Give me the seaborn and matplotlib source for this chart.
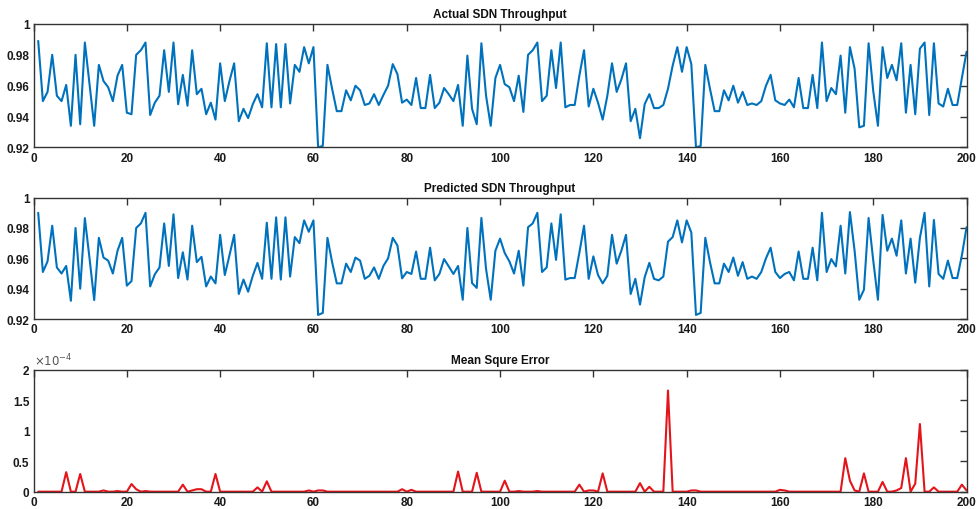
import numpy as np
import matplotlib
matplotlib.use("Agg")
import matplotlib.pyplot as plt
from matplotlib.ticker import FuncFormatter
import seaborn as sns

# ---- style (MATLAB-like look) ----
sns.set_theme(style="white")
plt.rcParams['font.family'] = ['Liberation Sans', 'DejaVu Sans']

# ---- data ----
samples = np.arange(1, 201)

actual = [
    0.989, 0.950, 0.956, 0.980, 0.9535, 0.950, 0.9605, 0.934, 0.980, 0.935,
    0.988, 0.961, 0.934, 0.9735, 0.963, 0.959, 0.950, 0.9665, 0.9735, 0.9425,
    0.9415, 0.980, 0.983, 0.988, 0.941, 0.949, 0.9535, 0.983, 0.956, 0.988,
    0.948, 0.967, 0.947, 0.983, 0.9545, 0.958, 0.9415, 0.949, 0.938, 0.9745,
    0.950, 0.963, 0.9745, 0.937, 0.945, 0.939, 0.948, 0.9545, 0.946, 0.9875,
    0.946, 0.987, 0.946, 0.987, 0.9485, 0.9735, 0.969, 0.985, 0.9745, 0.985,
    0.920, 0.921, 0.9735, 0.958, 0.9435, 0.9435, 0.957, 0.9505, 0.960, 0.957,
    0.9475, 0.9485, 0.9545, 0.9475, 0.954, 0.960, 0.974, 0.9675, 0.949, 0.951,
    0.9475, 0.965, 0.9455, 0.9455, 0.967, 0.9455, 0.949, 0.9585, 0.9545, 0.950,
    0.9605, 0.934, 0.9795, 0.945, 0.935, 0.9875, 0.9535, 0.934, 0.965, 0.9735,
    0.961, 0.959, 0.950, 0.9665, 0.943, 0.980, 0.983, 0.988, 0.950, 0.9535,
    0.983, 0.9585, 0.988, 0.946, 0.9475, 0.9475, 0.9665, 0.983, 0.9465, 0.958,
    0.949, 0.938, 0.9535, 0.9745, 0.956, 0.964, 0.9745, 0.937, 0.945, 0.926,
    0.948, 0.9545, 0.9455, 0.9455, 0.9475, 0.958, 0.973, 0.985, 0.969, 0.985,
    0.974, 0.920, 0.921, 0.9735, 0.958, 0.9435, 0.9435, 0.957, 0.9505, 0.960,
    0.949, 0.956, 0.9475, 0.9485, 0.9475, 0.950, 0.960, 0.967, 0.9505, 0.9485,
    0.9475, 0.951, 0.946, 0.965, 0.9455, 0.9455, 0.967, 0.9455, 0.988, 0.950,
    0.9585, 0.9545, 0.9795, 0.9425, 0.985, 0.971, 0.933, 0.934, 0.9875, 0.9565,
    0.934, 0.985, 0.965, 0.9735, 0.9635, 0.9875, 0.9425, 0.9735, 0.9415, 0.984,
    0.988, 0.941, 0.9875, 0.9485, 0.9465, 0.958, 0.9475, 0.9475, 0.965, 0.982,
]

predicted = [
    0.990, 0.951, 0.958, 0.9815, 0.954, 0.950, 0.955, 0.932, 0.980, 0.940,
    0.9865, 0.960, 0.9325, 0.9735, 0.9605, 0.9585, 0.950, 0.965, 0.9735, 0.942,
    0.945, 0.980, 0.983, 0.990, 0.9415, 0.9495, 0.954, 0.983, 0.955, 0.989,
    0.947, 0.964, 0.946, 0.9815, 0.9575, 0.961, 0.9415, 0.948, 0.9435, 0.9755,
    0.949, 0.962, 0.9755, 0.9365, 0.946, 0.938, 0.9485, 0.957, 0.9465, 0.9835,
    0.9465, 0.987, 0.946, 0.987, 0.948, 0.974, 0.970, 0.985, 0.9775, 0.985,
    0.9227, 0.924, 0.9735, 0.9575, 0.9435, 0.9435, 0.9565, 0.951, 0.9605, 0.9585,
    0.9465, 0.9485, 0.954, 0.9465, 0.955, 0.960, 0.9735, 0.9685, 0.9468, 0.951,
    0.9497, 0.9645, 0.9465, 0.9465, 0.967, 0.9455, 0.9497, 0.9595, 0.9547, 0.9497,
    0.955, 0.9327, 0.980, 0.9437, 0.9405, 0.9866, 0.953, 0.9327, 0.965, 0.973,
    0.9635, 0.958, 0.950, 0.965, 0.942, 0.9805, 0.983, 0.990, 0.951, 0.954,
    0.983, 0.959, 0.989, 0.946, 0.947, 0.947, 0.9637, 0.9815, 0.9465, 0.9613,
    0.949, 0.9435, 0.9485, 0.9755, 0.9565, 0.965, 0.9755, 0.9365, 0.9465, 0.9295,
    0.9475, 0.957, 0.9465, 0.9455, 0.948, 0.971, 0.974, 0.985, 0.9705, 0.985,
    0.977, 0.9227, 0.924, 0.9735, 0.9575, 0.9435, 0.9435, 0.9565, 0.951, 0.9605,
    0.9485, 0.9575, 0.9465, 0.948, 0.9465, 0.951, 0.960, 0.967, 0.951, 0.947,
    0.9497, 0.951, 0.9455, 0.9645, 0.9465, 0.9465, 0.967, 0.9455, 0.990, 0.951,
    0.9595, 0.9547, 0.9815, 0.950, 0.9905, 0.965, 0.9327, 0.9393, 0.9866, 0.9585,
    0.9327, 0.9886, 0.965, 0.973, 0.9617, 0.985, 0.950, 0.973, 0.944, 0.9735,
    0.990, 0.9415, 0.9853, 0.9497, 0.9465, 0.9585, 0.947, 0.947, 0.962, 0.9805,
]

# mean square error, in units of 1e-4
mse_e4 = [
    0, 0, 0, 0, 0, 0, 0.32, 0, 0, 0.29,
    0, 0, 0, 0, 0.02, 0, 0, 0.01, 0, 0,
    0.125, 0.04, 0, 0.01, 0, 0, 0, 0, 0, 0,
    0, 0.115, 0, 0.02, 0.04, 0.04, 0, 0, 0.29, 0,
    0, 0, 0, 0, 0, 0, 0, 0.07, 0, 0.17,
    0, 0, 0, 0, 0, 0, 0, 0, 0.02, 0,
    0.02, 0.02, 0, 0, 0, 0, 0, 0, 0, 0,
    0, 0, 0, 0, 0, 0, 0, 0, 0.04, 0,
    0.03, 0, 0, 0, 0, 0, 0, 0, 0, 0,
    0.33, 0, 0, 0, 0.31, 0, 0, 0, 0, 0,
    0.18, 0, 0, 0.01, 0, 0, 0, 0.01, 0, 0,
    0, 0, 0, 0, 0, 0, 0.115, 0, 0.02, 0.02,
    0, 0.30, 0, 0, 0, 0, 0, 0, 0, 0.14,
    0, 0.08, 0, 0, 0, 1.66, 0, 0, 0, 0,
    0.02, 0.02, 0, 0, 0, 0, 0, 0, 0, 0,
    0, 0, 0, 0, 0, 0, 0, 0, 0, 0.03,
    0.02, 0, 0, 0, 0, 0, 0, 0, 0, 0,
    0, 0, 0, 0.55, 0.18, 0.02, 0, 0.30, 0, 0,
    0, 0.16, 0, 0, 0.02, 0.06, 0.55, 0, 0.13, 1.11,
    0, 0, 0.07, 0, 0, 0, 0, 0, 0.115, 0.02,
]
mse = np.array(mse_e4) * 1e-4

titles = ["Actual SDN Throughput", "Predicted SDN Throughput", "Mean Squre Error"]
x_ticks = list(range(0, 201, 20))
thr_ticks = [0.92, 0.94, 0.96, 0.98, 1.0]
mse_ticks = [0, 0.5e-4, 1e-4, 1.5e-4, 2e-4]

blue = "#0072BD"
red = "#E3151B"
edge = "#333333"

fig = plt.figure(figsize=(9.78, 5.10), dpi=100)
ax1 = fig.add_axes([0.0343, 0.709, 0.954, 0.242])
ax2 = fig.add_axes([0.0343, 0.3725, 0.954, 0.238])
ax3 = fig.add_axes([0.0343, 0.034, 0.954, 0.239])


def style(ax, title):
    ax.set_xlim(0, 200)
    ax.set_xticks(x_ticks)
    ax.set_xlabel("")
    ax.set_ylabel("")
    ax.tick_params(direction="in", top=True, right=True, length=5, width=1.0,
                   colors=edge, labelsize=8.5, pad=3)
    for lab in ax.get_xticklabels() + ax.get_yticklabels():
        lab.set_fontweight("bold")
        lab.set_color("#1a1a1a")
    for sp in ax.spines.values():
        sp.set_visible(True)
        sp.set_color(edge)
        sp.set_linewidth(1.0)
    ax.set_title(title, fontsize=8.5, fontweight="bold", color="#111111", pad=5)


sns.lineplot(x=samples, y=actual, ax=ax1, color=blue, linewidth=1.5)
sns.lineplot(x=samples, y=predicted, ax=ax2, color=blue, linewidth=1.5)
sns.lineplot(x=samples, y=mse, ax=ax3, color=red, linewidth=1.5)

for ax in (ax1, ax2):
    ax.set_ylim(0.92, 1.0)
    ax.set_yticks(thr_ticks)
    ax.yaxis.set_major_formatter(FuncFormatter(lambda v, p: f"{v:g}"))

ax3.set_ylim(0, 2e-4)
ax3.set_yticks(mse_ticks)
ax3.yaxis.set_major_formatter(FuncFormatter(lambda v, p: f"{v * 1e4:g}"))
ax3.text(0.0, 1.015, r"$\times10^{-4}$", transform=ax3.transAxes,
         fontsize=8.5, color="#555555", ha="left", va="bottom")

for ax, t in zip((ax1, ax2, ax3), titles):
    style(ax, t)

plt.savefig("out.png", dpi=100)
plt.close()
